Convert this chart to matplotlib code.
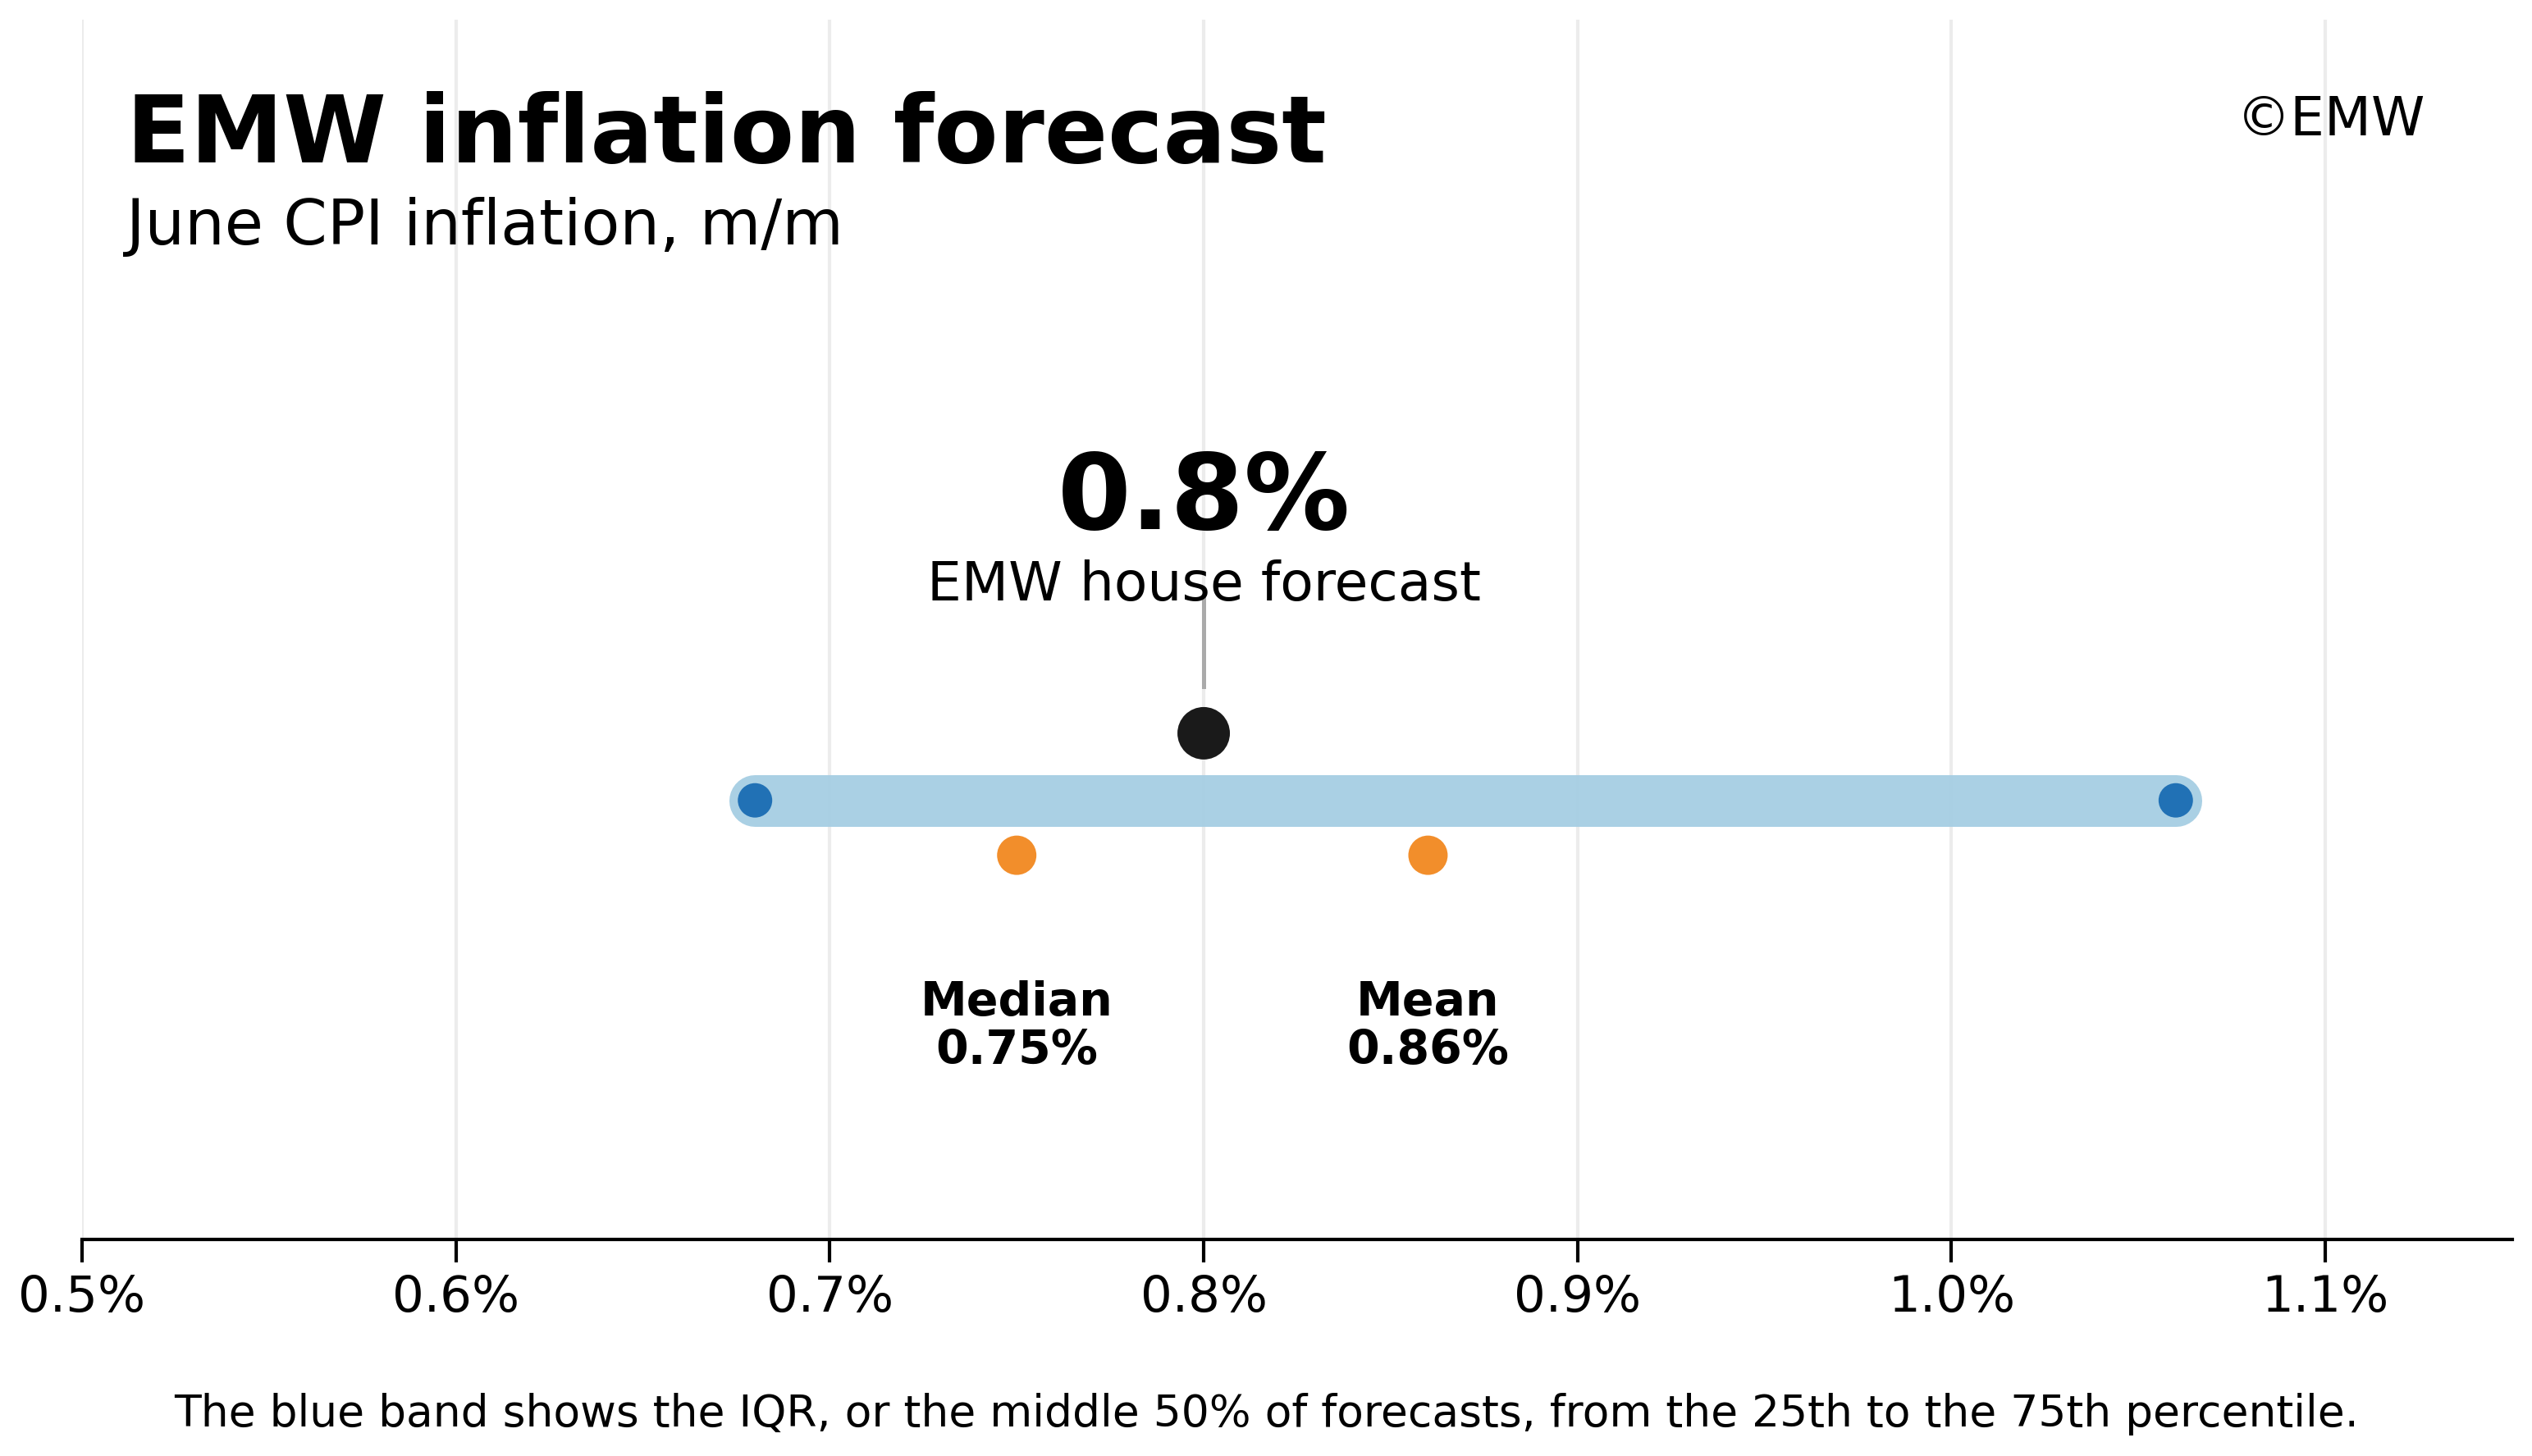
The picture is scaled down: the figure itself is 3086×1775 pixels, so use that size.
import matplotlib
matplotlib.use("Agg")
import matplotlib.pyplot as plt

# forecast summary (CPI m/m, %)
house_forecast = 0.8
iqr_low, iqr_high = 0.68, 1.06
median_val = 0.75
mean_val = 0.86
ticks = [0.5, 0.6, 0.7, 0.8, 0.9, 1.0, 1.1]
tick_labels = ["0.5%", "0.6%", "0.7%", "0.8%", "0.9%", "1.0%", "1.1%"]

fig = plt.figure(figsize=(15.43, 8.875), dpi=200)
ax = fig.add_axes([0.0324, 0.1487, 0.9598, 0.8378])
ax.set_xlim(0.5, 1.15)
ax.set_ylim(0, 1)

# grid
for t in ticks:
    ax.axvline(t, color="#ececec", lw=1.5, zorder=0)

# IQR band + ends
ax.plot([iqr_low, iqr_high], [0.36, 0.36], color="#a6cee3", lw=22.7,
        solid_capstyle="round", alpha=0.95, zorder=1)
ax.scatter([iqr_low, iqr_high], [0.36, 0.36], s=228, color="#2171b5",
           edgecolors="none", zorder=3)

# house forecast
ax.scatter([house_forecast], [0.415], s=530, color="#1a1a1a",
           edgecolors="none", zorder=3)
ax.plot([house_forecast, house_forecast], [0.453, 0.525], color="#aaaaaa",
        lw=1.8, zorder=2)
ax.text(house_forecast, 0.5824, f"{house_forecast}%", ha="center",
        va="baseline", fontsize=46.4, fontweight="bold")
ax.text(house_forecast, 0.5242, "EMW house forecast", ha="center",
        va="baseline", fontsize=23.9)

# median / mean
ax.scatter([median_val, mean_val], [0.315, 0.315], s=298, color="#f28e2b",
           edgecolors="none", zorder=3)
for v, name in [(median_val, "Median"), (mean_val, "Mean")]:
    ax.text(v, 0.144, f"{name}\n{v:.2f}%", ha="center", va="baseline",
            fontsize=20.5, fontweight="bold", linespacing=1.1)

# axes styling
for s in ["left", "top", "right"]:
    ax.spines[s].set_visible(False)
ax.spines["bottom"].set_linewidth(1.5)
ax.set_yticks([])
ax.set_xticks(ticks)
ax.set_xticklabels(tick_labels)
ax.tick_params(axis="x", labelsize=22, length=10, width=1.5, pad=5)

# titles and notes
fig.text(0.05, 0.8885, "EMW inflation forecast", fontsize=41,
         fontweight="bold", va="baseline")
fig.text(0.05, 0.832, "June CPI inflation, m/m", fontsize=27.6, va="baseline")
fig.text(0.958, 0.907, "©EMW", fontsize=23.8, ha="right", va="baseline")
fig.text(0.5, 0.02, "The blue band shows the IQR, or the middle 50% of forecasts, "
         "from the 25th to the 75th percentile.", fontsize=19.25, ha="center",
         va="baseline")

fig.savefig("out.png", dpi=200)
